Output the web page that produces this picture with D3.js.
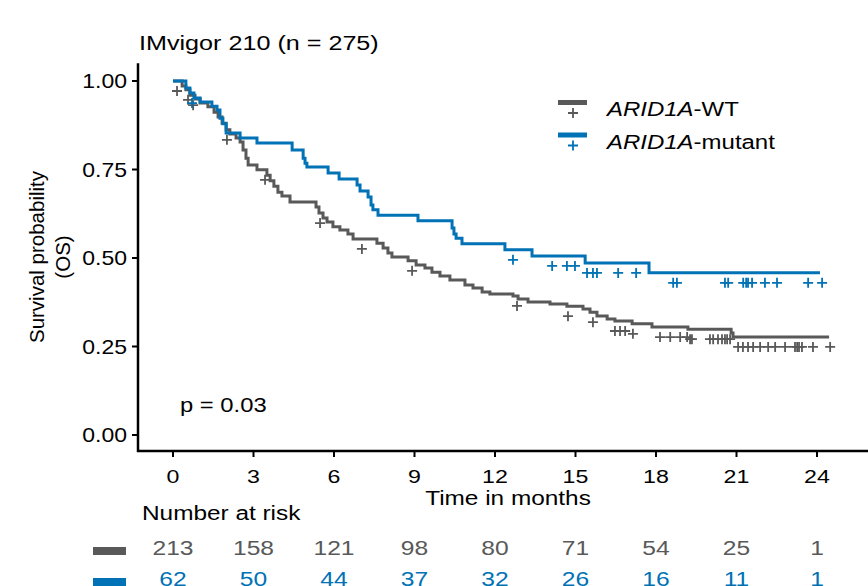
<!DOCTYPE html>
<html>
<head>
<meta charset="utf-8">
<script src="https://cdn.jsdelivr.net/npm/d3@7"></script>
<style>
  body { margin: 0; background: #fff; }
  text { font-family: "Liberation Sans", Arial, sans-serif; }
</style>
</head>
<body>
<div id="chart"></div>
<script>
// Kaplan-Meier steps (time in months, survival after the drop)
var wtTimes = [0.34, 0.48, 0.63, 0.82, 1.01, 1.30, 1.53, 1.68, 1.83, 1.98, 2.12, 2.35, 2.50, 2.61, 2.72, 2.80,
    3.13, 3.50, 3.62, 3.76, 3.91, 4.06, 4.36, 5.33, 5.44, 5.59, 5.74, 5.96, 6.22, 6.52, 6.71,
    7.60, 7.83, 8.01, 8.16, 8.76, 9.06, 9.39, 9.65, 9.95, 10.32, 10.88, 11.18, 11.52, 11.81,
    12.67, 12.86, 13.23, 14.05, 14.68, 15.28, 15.54, 15.80, 16.18, 16.47, 17.11, 17.85, 19.19, 20.80, 20.87];
var wtSurv = [0.986, 0.975, 0.960, 0.949, 0.938, 0.927, 0.912, 0.898, 0.881, 0.862, 0.850, 0.839, 0.828, 0.805, 0.782, 0.763,
    0.749, 0.734, 0.718, 0.703, 0.686, 0.675, 0.658, 0.644, 0.627, 0.613, 0.602, 0.588, 0.579, 0.568, 0.554,
    0.542, 0.528, 0.514, 0.503, 0.492, 0.480, 0.472, 0.460, 0.449, 0.438, 0.424, 0.415, 0.404, 0.398,
    0.393, 0.384, 0.376, 0.370, 0.364, 0.356, 0.347, 0.336, 0.328, 0.322, 0.314, 0.305, 0.299, 0.288, 0.277];
var wtEnd = 24.45;

var mutTimes = [0.48, 0.63, 0.78, 1.01, 1.45, 1.64, 1.75, 1.86, 1.98, 2.50, 3.13, 4.44, 4.85, 4.92, 4.99,
    5.78, 6.19, 6.86, 6.97, 7.27, 7.38, 7.45, 7.64, 9.13, 10.40, 10.47, 10.55, 10.77, 12.37, 13.38, 15.36, 17.74];
var mutSurv = [0.980, 0.966, 0.952, 0.941, 0.929, 0.918, 0.895, 0.879, 0.853, 0.839, 0.825, 0.805, 0.782, 0.768, 0.757,
    0.740, 0.723, 0.706, 0.689, 0.672, 0.650, 0.636, 0.621, 0.605, 0.585, 0.568, 0.556, 0.540, 0.523, 0.506, 0.486, 0.458];
var mutEnd = 24.11;

// censoring times
var wtCensor = [0.15, 0.56, 0.75, 2.01, 3.43, 5.48, 7.04, 8.91, 12.82, 14.72, 15.65, 16.47, 16.66, 16.85, 17.14,
    18.15, 18.53, 18.90, 19.16, 19.27, 19.34, 20.01, 20.13, 20.31, 20.46, 20.57, 20.65, 20.76,
    21.06, 21.24, 21.43, 21.62, 21.88, 22.18, 22.44, 22.81, 23.18, 23.26, 23.33, 23.44, 23.85, 24.49];
var mutCensor = [0.71, 12.67, 14.13, 14.68, 14.98, 15.43, 15.65, 15.80, 16.59, 17.26, 18.64, 18.78,
    20.57, 20.69, 21.25, 21.36, 21.43, 21.58, 22.06, 22.51, 23.67, 24.19];

var timeTicks = [0, 3, 6, 9, 12, 15, 18, 21, 24];
var survTicks = [0, 0.25, 0.5, 0.75, 1];
var riskWT = [213, 158, 121, 98, 80, 71, 54, 25, 1];
var riskMut = [62, 50, 44, 37, 32, 26, 16, 11, 1];
var groupNames = ["ARID1A", "ARID1A"];
var groupSuffix = ["-WT", "-mutant"];

var grey = "#595959", blue = "#0072B5";

var width = 868, height = 586;
var svg = d3.select("#chart").append("svg")
    .attr("width", width)
    .attr("height", height);

var x = d3.scaleLinear().domain([0, 24]).range([173, 817]);
var y = d3.scaleLinear().domain([0, 1]).range([435, 81]);

// text helper, glyphs a bit wider than the font's own
function label(g, px, py, str, size, anchor, sx, color) {
    return g.append("text")
        .attr("transform", "translate(" + px + "," + py + ") scale(" + sx + ",1)")
        .attr("text-anchor", anchor)
        .style("font-size", size + "px")
        .style("fill", color || "#000")
        .text(str);
}

function steps(times, surv, end) {
    var pts = [[0, 1]];
    times.forEach(function (t, i) { pts.push([t, surv[i]]); });
    pts.push([end, surv[surv.length - 1]]);
    return pts;
}
function survAt(times, surv, t) {
    var s = 1;
    times.forEach(function (tt, i) { if (tt <= t) s = surv[i]; });
    return s;
}

// axes
svg.append("line")
    .attr("x1", 138).attr("x2", 138)
    .attr("y1", y(1.05)).attr("y2", 452)
    .style("stroke", "#000").style("stroke-width", 2.5);
svg.append("line")
    .attr("x1", 137).attr("x2", 868)
    .attr("y1", 451).attr("y2", 451)
    .style("stroke", "#000").style("stroke-width", 2.5);

survTicks.forEach(function (v) {
    svg.append("line")
        .attr("x1", 132).attr("x2", 138)
        .attr("y1", y(v)).attr("y2", y(v))
        .style("stroke", "#000").style("stroke-width", 2);
    label(svg, 127, y(v) + 7, d3.format(".2f")(v), 20, "end", 1.15);
});
timeTicks.forEach(function (v) {
    svg.append("line")
        .attr("x1", x(v)).attr("x2", x(v))
        .attr("y1", 451).attr("y2", 457)
        .style("stroke", "#000").style("stroke-width", 2);
    label(svg, x(v), 483, v, 19, "middle", 1.22);
});

label(svg, 508, 505, "Time in months", 19.5, "middle", 1.25);
label(svg, 139, 50, "IMvigor 210 (n = 275)", 19.5, "start", 1.29);

// y title
var yt = svg.append("g").attr("transform", "translate(44,257) rotate(-90)");
yt.append("text").attr("text-anchor", "middle").style("font-size", "20.5px").text("Survival probability");
yt.append("text").attr("text-anchor", "middle").attr("y", 26).style("font-size", "20.5px").text("(OS)");

// curves
var line = d3.line()
    .x(function (d) { return x(d[0]); })
    .y(function (d) { return y(d[1]); })
    .curve(d3.curveStepAfter);

function cross(g, cx, cy, color, r) {
    g.append("path")
        .attr("d", "M" + (cx - r) + "," + cy + "H" + (cx + r) + "M" + cx + "," + (cy - r) + "V" + (cy + r))
        .style("stroke", color)
        .style("stroke-width", 1.8)
        .style("fill", "none");
}

var curves = [
    { times: wtTimes, surv: wtSurv, end: wtEnd, cens: wtCensor, color: grey },
    { times: mutTimes, surv: mutSurv, end: mutEnd, cens: mutCensor, color: blue }
];
curves.forEach(function (c) {
    svg.append("path")
        .datum(steps(c.times, c.surv, c.end))
        .attr("d", line)
        .style("fill", "none")
        .style("stroke", c.color)
        .style("stroke-width", 3);
});
curves.forEach(function (c) {
    c.cens.forEach(function (t) {
        cross(svg, x(t), y(survAt(c.times, c.surv, t)) + 10, c.color, 5);
    });
});

// legend
[grey, blue].forEach(function (col, i) {
    var ly = 102.5 + i * 32.5;
    svg.append("line")
        .attr("x1", 558).attr("x2", 587)
        .attr("y1", ly).attr("y2", ly)
        .style("stroke", col).style("stroke-width", 5);
    cross(svg, 573, ly + 10.5, col, 5);
    var t = label(svg, 607, ly + 13.5, "", 19.5, "start", 1.23);
    t.append("tspan").style("font-style", "italic").text(groupNames[i]);
    t.append("tspan").text(groupSuffix[i]);
});

label(svg, 180, 412, "p = 0.03", 19.5, "start", 1.22);

// number at risk table
label(svg, 142, 520, "Number at risk", 19.5, "start", 1.25);
[riskWT, riskMut].forEach(function (row, i) {
    var col = i === 0 ? grey : blue;
    var by = 555 + i * 31;
    svg.append("rect")
        .attr("x", 93).attr("y", by - 8)
        .attr("width", 33).attr("height", 8)
        .style("fill", col);
    row.forEach(function (n, j) {
        label(svg, x(timeTicks[j]), by, n, 20.5, "middle", 1.2, col);
    });
});
</script>
</body>
</html>
